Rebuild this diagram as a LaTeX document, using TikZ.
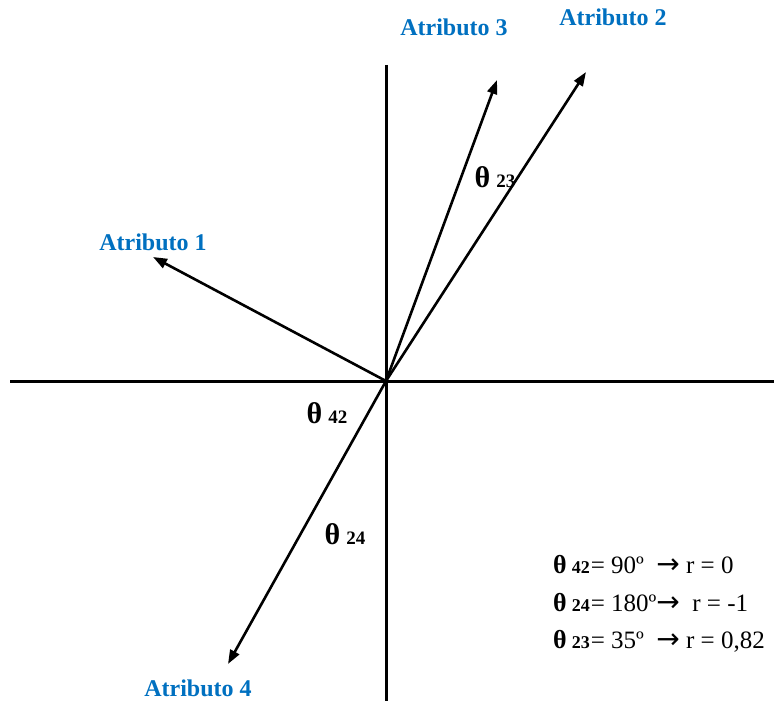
\documentclass[tikz,border=0pt]{standalone}
\usepackage{fontspec}
\setmainfont{Liberation Serif}
\newfontfamily\arrowfont{DejaVu Sans}
\usetikzlibrary{arrows.meta}
\definecolor{atrblue}{HTML}{0070C0}
\newcommand{\thlab}[1]{{\fontsize{30}{30}\selectfont\bfseries θ}\hspace{6pt}{\fontsize{19}{19}\selectfont\bfseries #1}}
\newcommand{\legline}[2]{{\fontsize{26}{26}\selectfont\bfseries θ}\hspace{5pt}{\fontsize{18}{18}\selectfont\bfseries #1}\hspace{1pt}{\fontsize{25}{25}\selectfont #2}}
\newcommand{\arr}{{\arrowfont\fontsize{28}{28}\selectfont →}}

\begin{document}
\begin{tikzpicture}[
                x=1pt, y=-1pt,
                axis/.style={line width=3pt},
                vec/.style={line width=2.6pt, -{Triangle[length=14pt,width=10pt]}},
                attr/.style={text=atrblue, font=\fontsize{24}{24}\selectfont\bfseries, inner sep=0pt},
                angle/.style={inner sep=0pt},
                legend/.style={anchor=base west, inner sep=0pt}
            ]
            \useasboundingbox (0,0) rectangle (774,701);

            % axes
            \coordinate (O) at (386,381);
            \coordinate (xl) at (10,381);
            \coordinate (xr) at (774,381);
            \coordinate (yt) at (386,65);
            \coordinate (yb) at (386,701);
            \draw[axis] (xl) -- (xr);
            \draw[axis] (yt) -- (yb);

            % vectors
            \coordinate (t1) at (153,257);
            \coordinate (t2) at (586,72);
            \coordinate (t3) at (497,80);
            \coordinate (t4) at (228,664);
            \draw[vec] (O) -- (t1);
            \draw[vec] (O) -- (t2);
            \draw[vec] (O) -- (t3);
            \draw[vec] (O) -- (t4);

            % labels
            \node[attr] (a1) at (153,242) {Atributo 1};
            \node[attr] (a2) at (613,17) {Atributo 2};
            \node[attr] (a3) at (454,27) {Atributo 3};
            \node[attr] (a4) at (198,688) {Atributo 4};

            % angles
            \node[angle] (th42) at (327,413) {\thlab{42}};
            \node[angle] (th24) at (345,534) {\thlab{24}};
            \node[angle] (th23) at (495,177) {\thlab{23}};

            % legend
            \node[legend] (l1) at (553,573) {\legline{42}{= 90º \ \arr\ r = 0}};
            \node[legend] (l2) at (553,611) {\legline{24}{= 180º\arr\ \ r = -1}};
            \node[legend] (l3) at (553,648) {\legline{23}{= 35º \ \arr\ r = 0,82}};
\end{tikzpicture}
\end{document}
